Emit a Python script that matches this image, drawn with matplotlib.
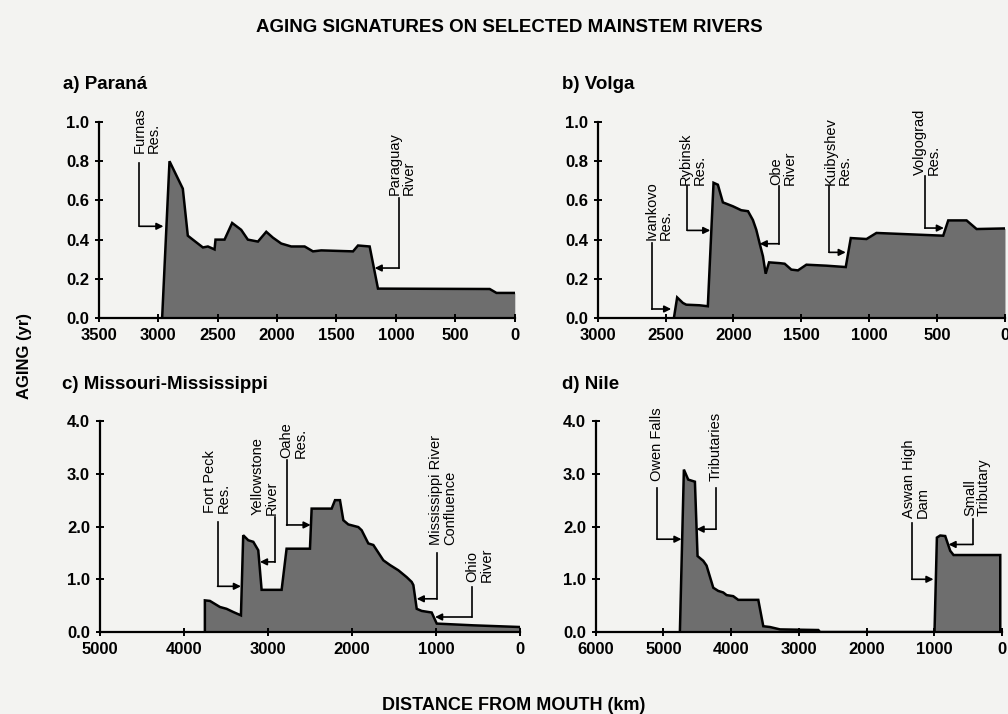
import matplotlib
matplotlib.use("Agg")
import matplotlib.pyplot as plt

plt.rcParams["font.family"] = ["Liberation Sans", "DejaVu Sans"]

BG = "#f3f3f1"
FILL = "#6e6e6e"

# ---------------------------------------------------------------------------
# Data: distance from mouth (km) vs aging (yr)
# ---------------------------------------------------------------------------
PARANA_KM = [2967, 2905, 2793, 2751, 2709, 2624, 2582, 2526, 2518, 2442, 2378,
             2302, 2246, 2161, 2091, 2035, 1965, 1881, 1768, 1698, 1628, 1361,
             1319, 1221, 1151, 211, 154, 0]
PARANA_AGE = [0.0, 0.80, 0.66, 0.42, 0.40, 0.36, 0.365, 0.35, 0.40, 0.40, 0.485,
              0.45, 0.40, 0.39, 0.44, 0.41, 0.38, 0.365, 0.365, 0.34, 0.345, 0.34,
              0.37, 0.365, 0.15, 0.148, 0.128, 0.128]

VOLGA_KM = [2439, 2415, 2373, 2348, 2250, 2189, 2147, 2115, 2078, 2004, 1943,
            1893, 1857, 1832, 1807, 1783, 1763, 1738, 1660, 1623, 1574, 1525,
            1463, 1316, 1173, 1136, 1020, 947, 455, 418, 283, 209, 0]
VOLGA_AGE = [0.0, 0.105, 0.077, 0.068, 0.065, 0.06, 0.69, 0.68, 0.59, 0.57, 0.55,
             0.545, 0.50, 0.45, 0.38, 0.315, 0.226, 0.284, 0.28, 0.277, 0.247, 0.243,
             0.272, 0.267, 0.26, 0.408, 0.403, 0.434, 0.42, 0.498, 0.498, 0.454, 0.457]

MISS_KM = [3750, 3750, 3690, 3571, 3492, 3413, 3321, 3294, 3234, 3174, 3115,
           3075, 2837, 2778, 2500, 2480, 2242, 2202, 2143, 2103, 2044, 1925,
           1885, 1806, 1746, 1627, 1548, 1448, 1349, 1290, 1270, 1230, 1171,
           1052, 992, 556, 0]
MISS_AGE = [0.0, 0.60, 0.59, 0.475, 0.44, 0.38, 0.316, 1.835, 1.74, 1.71, 1.55,
            0.80, 0.80, 1.58, 1.58, 2.34, 2.34, 2.5, 2.5, 2.12, 2.04, 1.99,
            1.93, 1.68, 1.65, 1.36, 1.27, 1.17, 1.04, 0.95, 0.89, 0.44, 0.40,
            0.37, 0.16, 0.127, 0.095]

NILE_KM = [4757, 4698, 4634, 4535, 4496, 4412, 4363, 4264, 4191, 4117, 4067,
           3969, 3895, 3599, 3525, 3426, 3278, 2712, 2687, 996, 961, 912, 838,
           764, 715, 25, 25]
NILE_AGE = [0.0, 3.08, 2.89, 2.85, 1.44, 1.35, 1.26, 0.84, 0.78, 0.75, 0.70,
            0.68, 0.61, 0.61, 0.11, 0.095, 0.05, 0.038, 0.0, 0.0, 1.79, 1.83, 1.82,
            1.54, 1.46, 1.46, 0.0]

# labels: (text, text_x, text_y, line_x, line_top, line_bottom, arrow_tip_x)
PARANA_NOTES = [
    ("Furnas\nRes.", 3096, 0.84, 3158, 0.79, 0.468, 2956),
    ("Paraguay\nRiver", 954, 0.63, 974, 0.612, 0.255, 1179),
]
VOLGA_NOTES = [
    ("Ivankovo\nRes.", 2552, 0.40, 2602, 0.383, 0.046, 2459),
    ("Rybinsk\nRes.", 2299, 0.68, 2341, 0.672, 0.447, 2171),
    ("Obe\nRiver", 1635, 0.68, 1665, 0.672, 0.379, 1807),
    ("Kuibyshev\nRes.", 1230, 0.68, 1296, 0.672, 0.335, 1173),
    ("Volgograd\nRes.", 578, 0.731, 590, 0.723, 0.459, 450),
]
MISS_NOTES = [
    ("Fort Peck\nRes.", 3611, 2.25, 3599, 2.09, 0.867, 3321),
    ("Yellowstone\nRiver", 3036, 2.22, 2917, 2.18, 1.33, 3095),
    ("Oahe\nRes.", 2698, 3.29, 2778, 3.26, 2.03, 2492),
    ("Mississippi River\nConfluence", 913, 1.65, 992, 1.5, 0.63, 1230),
    ("Ohio\nRiver", 484, 0.95, 575, 0.854, 0.285, 1012),
]
NILE_NOTES = [
    ("Owen Falls", 5093, 2.86, 5093, 2.74, 1.76, 4733),
    ("Tributaries", 4225, 2.86, 4225, 2.74, 1.95, 4511),
    ("Aswan High\nDam", 1267, 2.17, 1331, 2.07, 1.0, 1011),
    ("Small\nTributary", 370, 2.2, 429, 2.14, 1.66, 789),
]

PANELS = [
    ("a) Paraná", PARANA_KM, PARANA_AGE, PARANA_NOTES,
     [0.098, 0.5546, 0.4127, 0.2745], 3500, 500, 1.0, 0.2, (0.0625, 0.876)),
    ("b) Volga", VOLGA_KM, VOLGA_AGE, VOLGA_NOTES,
     [0.593, 0.5546, 0.404, 0.2745], 3000, 500, 1.0, 0.2, (0.5575, 0.876)),
    ("c) Missouri-Mississippi", MISS_KM, MISS_AGE, MISS_NOTES,
     [0.099, 0.1148, 0.417, 0.2955], 5000, 1000, 4.0, 1.0, (0.0615, 0.455)),
    ("d) Nile", NILE_KM, NILE_AGE, NILE_NOTES,
     [0.591, 0.1148, 0.403, 0.2955], 6000, 1000, 4.0, 1.0, (0.5575, 0.455)),
]

fig = plt.figure(figsize=(10.08, 7.14), dpi=100)
fig.patch.set_facecolor(BG)

for title, km, age, notes, rect, xmax, xstep, ymax, ystep, tpos in PANELS:
    ax = fig.add_axes(rect)
    ax.set_facecolor("none")
    ax.fill_between(km, age, 0, color=FILL, lw=0)
    ax.plot(km, age, color="black", lw=1.8, solid_joinstyle="miter")

    ax.set_xlim(xmax, 0)
    ax.set_ylim(0, ymax)
    xt = list(range(xmax, -1, -xstep))
    ax.set_xticks(xt)
    ax.set_xticklabels([str(v) for v in xt])
    n = int(round(ymax / ystep))
    yt = [i * ystep for i in range(n + 1)]
    ax.set_yticks(yt)
    ax.set_yticklabels([f"{v:.1f}" for v in yt])

    for s in ("top", "right"):
        ax.spines[s].set_visible(False)
    for s in ("left", "bottom"):
        ax.spines[s].set_linewidth(1.6)
    ax.tick_params(direction="inout", length=6, width=1.4, labelsize=12,
                   pad=4)
    for lab in ax.get_xticklabels() + ax.get_yticklabels():
        lab.set_fontweight("bold")

    for text, tx, ty, lx, ltop, lbot, tip in notes:
        ax.text(tx, ty, text, rotation=90, ha="center", va="bottom",
                multialignment="left", fontsize=10.5, linespacing=1.0,
                clip_on=False)
        ax.plot([lx, lx], [ltop, lbot], color="black", lw=1.2, clip_on=False)
        ax.annotate("", xy=(tip, lbot), xytext=(lx, lbot),
                    arrowprops=dict(arrowstyle="-|>", color="black", lw=1.2,
                                    mutation_scale=10, shrinkA=0, shrinkB=0),
                    annotation_clip=False)

    fig.text(tpos[0], tpos[1], title, fontsize=13.5, fontweight="bold",
             ha="left", va="baseline")

fig.text(0.505, 0.9608, "AGING SIGNATURES ON SELECTED MAINSTEM RIVERS",
         fontsize=13.5, fontweight="bold", ha="center", va="center")
fig.text(0.0248, 0.5014, "AGING (yr)", fontsize=12, fontweight="bold",
         rotation=90, ha="center", va="center")
fig.text(0.51, 0.0126, "DISTANCE FROM MOUTH (km)", fontsize=13,
         fontweight="bold", ha="center", va="center")

fig.savefig("out.png", dpi=100, facecolor=BG)
